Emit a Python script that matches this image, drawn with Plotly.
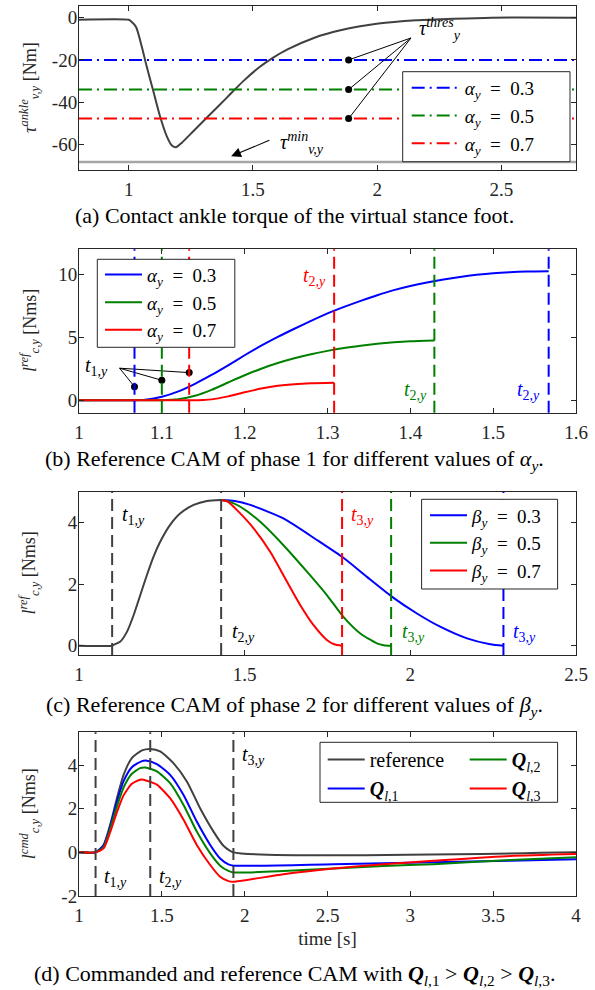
import plotly.graph_objects as go

FONT = "Liberation Serif, Times New Roman, DejaVu Serif, serif"
AX = "#262626"
BLUE, GREEN, RED, DARK, GREY = "#0000FF", "#008000", "#FF0000", "#404040", "#A6A6A6"
W, H = 595, 990

# ---------------- (a) contact ankle torque ----------------
tau_t = [0.8, 1.0, 1.008, 1.03, 1.052, 1.072, 1.099, 1.126, 1.153, 1.173, 1.19, 1.213,
         1.26, 1.327, 1.394, 1.461, 1.528, 1.58, 1.639, 1.745, 1.852, 2.005, 2.157,
         2.31, 2.46, 2.8]
tau_v = [-1.0, -1.0, -1.6, -4.5, -13.4, -22.9, -34.7, -46.6, -56.0, -60.3, -61.3, -59.2,
         -53.7, -45.8, -37.9, -30.0, -23.2, -19.0, -15.0, -9.6, -6.0, -2.8, -1.25,
         -0.5, 0.0, 0.0]
alpha_labels = ["0.3", "0.5", "0.7"]
tau_thres = [-20.0, -34.0, -47.7]
tau_min = -68.2
a_xrange = [0.8, 2.8]
a_yrange = [-72, 5.5]
a_xticks = [1, 1.5, 2, 2.5]
a_xtext = ["1", "1.5", "2", "2.5"]
a_yticks = [-60, -40, -20, 0]
a_ytext = ["-60", "-40", "-20", "0"]
thres_dot_x = 1.885
thres_hub = (2.136, -9.6)
thres_text = (2.16, -5.5)
min_arrow_head = (1.412, -65.5)
min_arrow_tail = (1.572, -57.7)
min_text = (1.60, -59.1)

# ---------------- (b) phase 1 ----------------
b_t1 = [1.067, 1.100, 1.133]
b_t2 = [1.567, 1.429, 1.308]
b_blue_t = [1.0, 1.067, 1.08, 1.10, 1.12, 1.14, 1.16, 1.18, 1.20, 1.22, 1.24, 1.26, 1.28,
            1.30, 1.32, 1.34, 1.36, 1.38, 1.40, 1.42, 1.44, 1.46, 1.48, 1.50, 1.52, 1.54, 1.567]
b_blue_v = [0, 0, 0.04, 0.27, 0.70, 1.30, 2.00, 2.77, 3.57, 4.33, 5.03, 5.68, 6.30,
            6.90, 7.42, 7.90, 8.35, 8.75, 9.08, 9.36, 9.60, 9.80, 9.97, 10.10, 10.18, 10.23, 10.25]
b_green_t = [1.0, 1.10, 1.12, 1.14, 1.16, 1.18, 1.20, 1.22, 1.24, 1.26, 1.28, 1.30, 1.32,
             1.34, 1.36, 1.38, 1.40, 1.429]
b_green_v = [0, 0, 0.08, 0.35, 0.82, 1.40, 1.98, 2.50, 2.95, 3.33, 3.65, 3.92, 4.15,
             4.33, 4.48, 4.60, 4.68, 4.74]
b_red_t = [1.0, 1.133, 1.15, 1.16, 1.18, 1.20, 1.22, 1.24, 1.26, 1.28, 1.308]
b_red_v = [0, 0, 0.02, 0.06, 0.30, 0.62, 0.92, 1.14, 1.27, 1.34, 1.38]
b_xrange = [1.0, 1.6]
b_yrange = [-1, 12]
b_xticks = [1, 1.1, 1.2, 1.3, 1.4, 1.5, 1.6]
b_xtext = ["1", "1.1", "1.2", "1.3", "1.4", "1.5", "1.6"]
b_yticks = [0, 5, 10]
b_ytext = ["0", "5", "10"]
b_t1_dot_y = [1.07, 1.58, 2.19]
b_t1_hub = (1.049, 2.54)
b_t1_text = (1.005, 2.7)
b_t2_text = [(1.543, 0.8), (1.406, 0.8), (1.284, 9.8)]

# ---------------- (c) phase 2 ----------------
c_t1, c_t2 = 1.10, 1.429
c_t3 = [2.281, 1.942, 1.794]
beta_labels = ["0.3", "0.5", "0.7"]
c_ref_t = [1.0, 1.10, 1.104, 1.124, 1.145, 1.165, 1.185, 1.205, 1.225, 1.245, 1.275,
           1.305, 1.346, 1.386, 1.429]
c_ref_v = [0, 0, 0.03, 0.13, 0.46, 1.0, 1.65, 2.3, 2.9, 3.38, 3.93, 4.3, 4.58, 4.71, 4.74]
c_blue_t = [1.429, 1.47, 1.517, 1.617, 1.718, 1.798, 1.869, 1.944, 2.02, 2.09, 2.171, 2.241, 2.281]
c_blue_v = [4.74, 4.71, 4.58, 4.14, 3.44, 2.86, 2.24, 1.6, 1.05, 0.62, 0.24, 0.05, 0]
c_green_t = [1.429, 1.455, 1.487, 1.547, 1.617, 1.688, 1.748, 1.798, 1.849, 1.899, 1.92, 1.942]
c_green_v = [4.74, 4.68, 4.52, 4.03, 3.27, 2.41, 1.65, 0.94, 0.40, 0.08, 0.02, 0]
c_red_t = [1.429, 1.45, 1.477, 1.527, 1.577, 1.628, 1.668, 1.708, 1.748, 1.77, 1.794]
c_red_v = [4.74, 4.68, 4.41, 3.82, 3.06, 2.08, 1.32, 0.67, 0.19, 0.05, 0]
c_xrange = [1.0, 2.5]
c_yrange = [-0.3, 5.0]
c_xticks = [1, 1.5, 2, 2.5]
c_xtext = ["1", "1.5", "2", "2.5"]
c_yticks = [0, 2, 4]
c_ytext = ["0", "2", "4"]
c_t1_text = (1.124, 4.25)
c_t2_text = (1.456, 0.43)
c_t3_text = [(2.305, 0.43), (1.968, 0.43), (1.814, 4.25)]

# ---------------- (d) commanded CAM ----------------
d_t = [1.10, 1.43, 1.932]
d_ref_t = [1.0, 1.098, 1.148, 1.188, 1.229, 1.269, 1.319, 1.38, 1.43, 1.49, 1.57, 1.651,
           1.731, 1.812, 1.872, 1.932, 4.0]
d_ref_v = [0, 0, 0.34, 1.26, 2.48, 3.55, 4.32, 4.67, 4.74, 4.63, 4.09, 3.25, 2.02, 0.95,
           0.30, 0, 0]
d_q1_t = [1.0, 1.098, 1.148, 1.188, 1.229, 1.269, 1.319, 1.38, 1.41, 1.47, 1.55, 1.631,
          1.711, 1.792, 1.852, 1.902, 1.932, 2.536, 3.139, 3.602, 4.0]
d_q1_v = [0, 0, 0.30, 1.18, 2.33, 3.26, 3.90, 4.18, 4.20, 4.04, 3.55, 2.63, 1.41, 0.34,
          -0.28, -0.55, -0.61, -0.54, -0.45, -0.38, -0.32]
d_q2_t = [1.0, 1.098, 1.148, 1.188, 1.229, 1.269, 1.319, 1.369, 1.40, 1.47, 1.55, 1.631,
          1.711, 1.792, 1.852, 1.902, 1.932, 2.234, 2.536, 2.838, 3.139, 3.602, 4.0]
d_q2_v = [0, 0, 0.23, 1.07, 2.10, 2.97, 3.60, 3.86, 3.89, 3.71, 3.17, 2.17, 0.95, -0.05,
          -0.61, -0.85, -0.92, -0.86, -0.74, -0.63, -0.54, -0.35, -0.22]
d_q3_t = [1.0, 1.098, 1.148, 1.188, 1.229, 1.269, 1.319, 1.369, 1.389, 1.47, 1.55, 1.631,
          1.711, 1.792, 1.852, 1.902, 1.932, 2.234, 2.536, 2.838, 3.139, 3.602, 4.0]
d_q3_v = [0, 0, 0.18, 0.92, 1.84, 2.61, 3.14, 3.33, 3.33, 3.10, 2.48, 1.49, 0.34, -0.58,
          -1.12, -1.32, -1.35, -1.0, -0.74, -0.54, -0.39, -0.17, -0.08]
d_xrange = [1.0, 4.0]
d_yrange = [-2.0, 5.5]
d_xticks = [1, 1.5, 2, 2.5, 3, 3.5, 4]
d_xtext = ["1", "1.5", "2", "2.5", "3", "3.5", "4"]
d_yticks = [-2, 0, 2, 4]
d_ytext = ["-2", "0", "2", "4"]
d_t_text = [(1.138, -1.15), (1.47, -1.15), (1.973, 4.45)]

# ---------------- layout geometry (pixels) ----------------
X_DOM = [79 / W, 576 / W]
def ydom(top, bottom):
    return [1 - bottom / H, 1 - top / H]
DOMS = [ydom(6, 170), ydom(249.3, 412.7), ydom(492, 655), ydom(732.3, 896)]
# legend frames (left, top, right, bottom) and legend anchor (left, top), in pixels
FRAMES = [(402.7, 71.7, 570, 161.7), (97.3, 259.3, 234.8, 347.3),
          (421.6, 499.3, 557.6, 589), (320, 742.3, 557.6, 802.3)]
LEG_POS = {"legend": (406.7, 69), "legend2": (100, 255.6), "legend3": (425, 496.3),
           "legend4": (322.7, 740), "legend5": (464.7, 740)}

TICKFONT = dict(family=FONT, size=19, color=AX)
LEGFONT = dict(family=FONT, size=19, color="black")
LEGFONT_D = dict(family=FONT, size=20, color="black")

fig = go.Figure()

def ln(x, y, color, xa, ya, name=None, legend=None, width=2, dash=None, shape="spline"):
    fig.add_trace(go.Scatter(
        x=x, y=y, mode="lines", xaxis=xa, yaxis=ya,
        line=dict(color=color, width=width, dash=dash, shape=shape, smoothing=0.6),
        name=name, showlegend=name is not None, legend=legend,
        legendgroup=name, hoverinfo="skip"))

def greek_name(letter, v):
    return "<i>%s</i><sub><i>y</i></sub>\u2002=\u2002%s" % (letter, v)

cols = [BLUE, GREEN, RED]
DASHDOT = "13px,5px,2px,5px"
DASH = "12px,6px"

# ---- (a)
ln(tau_t, tau_v, DARK, "x", "y")
for c, thr, lab in zip(cols, tau_thres, alpha_labels):
    ln(a_xrange, [thr, thr], c, "x", "y", name=greek_name("α", lab), legend="legend",
       dash=DASHDOT, shape="linear")
ln(a_xrange, [tau_min, tau_min], GREY, "x", "y", width=2.5, shape="linear")
hx, hy = [], []
for thr in tau_thres:
    hx += [thres_hub[0], thres_dot_x, None]
    hy += [thres_hub[1], thr, None]
fig.add_trace(go.Scatter(x=hx, y=hy, mode="lines", xaxis="x", yaxis="y",
                         line=dict(color="black", width=1), showlegend=False, hoverinfo="skip"))
fig.add_trace(go.Scatter(x=[thres_dot_x] * 3, y=tau_thres, mode="markers", xaxis="x", yaxis="y",
                         marker=dict(color="black", size=7), showlegend=False, hoverinfo="skip"))

# ---- (b)
ln(b_blue_t, b_blue_v, BLUE, "x2", "y2", name=greek_name("α", alpha_labels[0]), legend="legend2")
ln(b_green_t, b_green_v, GREEN, "x2", "y2", name=greek_name("α", alpha_labels[1]), legend="legend2")
ln(b_red_t, b_red_v, RED, "x2", "y2", name=greek_name("α", alpha_labels[2]), legend="legend2")
hx, hy = [], []
for t, dy in zip(b_t1, b_t1_dot_y):
    hx += [b_t1_hub[0], t, None]
    hy += [b_t1_hub[1], dy, None]
fig.add_trace(go.Scatter(x=hx, y=hy, mode="lines", xaxis="x2", yaxis="y2",
                         line=dict(color="black", width=1), showlegend=False, hoverinfo="skip"))
fig.add_trace(go.Scatter(x=b_t1, y=b_t1_dot_y, mode="markers", xaxis="x2", yaxis="y2",
                         marker=dict(color="black", size=7), showlegend=False, hoverinfo="skip"))

# ---- (c)
ln(c_ref_t, c_ref_v, DARK, "x3", "y3")
ln(c_blue_t, c_blue_v, BLUE, "x3", "y3", name=greek_name("β", beta_labels[0]), legend="legend3")
ln(c_green_t, c_green_v, GREEN, "x3", "y3", name=greek_name("β", beta_labels[1]), legend="legend3")
ln(c_red_t, c_red_v, RED, "x3", "y3", name=greek_name("β", beta_labels[2]), legend="legend3")

# ---- (d)
ln(d_ref_t, d_ref_v, DARK, "x4", "y4", name="reference", legend="legend4")
ln(d_q1_t, d_q1_v, BLUE, "x4", "y4", name="<b><i>Q</i></b><sub><i>l</i>,1</sub>", legend="legend4")
ln(d_q2_t, d_q2_v, GREEN, "x4", "y4", name="<b><i>Q</i></b><sub><i>l</i>,2</sub>", legend="legend5")
ln(d_q3_t, d_q3_v, RED, "x4", "y4", name="<b><i>Q</i></b><sub><i>l</i>,3</sub>", legend="legend5")

# ---------------- vertical dashed lines (shapes) ----------------
shapes = []
def vline(x, axis_n, color):
    xr = "x" if axis_n == 1 else "x%d" % axis_n
    yr = "y domain" if axis_n == 1 else "y%d domain" % axis_n
    shapes.append(dict(type="line", xref=xr, yref=yr, x0=x, x1=x, y0=0, y1=1,
                       line=dict(color=color, width=2, dash=DASH), layer="above"))
for t, c in zip(b_t1, cols):
    vline(t, 2, c)
for t, c in zip(b_t2, cols):
    vline(t, 2, c)
vline(c_t1, 3, DARK)
vline(c_t2, 3, DARK)
for t, c in zip(c_t3, cols):
    vline(t, 3, c)
for t in d_t:
    vline(t, 4, DARK)
# legend frames
for (l, t, r, b) in FRAMES:
    shapes.append(dict(type="rect", xref="paper", yref="paper",
                       x0=l / W, x1=r / W, y0=1 - b / H, y1=1 - t / H,
                       line=dict(color=AX, width=1), fillcolor="white", layer="above"))

# ---------------- annotations ----------------
ann = []
def txt(x, y, s, xref, yref, color="black", xanchor="left", size=20):
    ann.append(dict(x=x, y=y, xref=xref, yref=yref, text=s, showarrow=False,
                    xanchor=xanchor, yanchor="middle",
                    font=dict(family=FONT, size=size, color=color)))

def tsub(n):
    return "<i>t</i><sub>%d,<i>y</i></sub>" % n

txt(thres_text[0], thres_text[1], "<i>τ</i><sup><i>thres</i></sup><sub><i>y</i></sub>", "x", "y")
txt(min_text[0], min_text[1], "<i>τ</i><sup><i>min</i></sup><sub><i>v,y</i></sub>", "x", "y")
ann.append(dict(x=min_arrow_head[0], y=min_arrow_head[1], ax=min_arrow_tail[0], ay=min_arrow_tail[1],
                xref="x", yref="y", axref="x", ayref="y", text="", showarrow=True,
                arrowhead=2, arrowsize=1.8, arrowwidth=1.1, arrowcolor="black"))

txt(b_t1_text[0], b_t1_text[1], tsub(1), "x2", "y2")
for (x, y), c in zip(b_t2_text, cols):
    txt(x, y, tsub(2), "x2", "y2", color=c, xanchor="center")

txt(c_t1_text[0], c_t1_text[1], tsub(1), "x3", "y3")
txt(c_t2_text[0], c_t2_text[1], tsub(2), "x3", "y3")
for (x, y), c in zip(c_t3_text, cols):
    txt(x, y, tsub(3), "x3", "y3", color=c)

for i, (x, y) in enumerate(d_t_text):
    txt(x, y, tsub(i + 1), "x4", "y4")

# y-axis titles
ytitles = ["<i>τ</i><sup><i>ankle</i></sup><sub><i>v,y</i></sub> [Nm]",
           "<i>l</i><sup><i>ref</i></sup><sub><i>c,y</i></sub> [Nms]",
           "<i>l</i><sup><i>ref</i></sup><sub><i>c,y</i></sub> [Nms]",
           "<i>l</i><sup><i>cmd</i></sup><sub><i>c,y</i></sub> [Nms]"]
for dom, s in zip(DOMS, ytitles):
    ann.append(dict(x=29 / W, y=(dom[0] + dom[1]) / 2, xref="paper", yref="paper",
                    text=s, showarrow=False, textangle=-90, xanchor="center", yanchor="middle",
                    font=dict(family=FONT, size=18, color=AX)))

# captions
captions = [
    (216, "(a) Contact ankle torque of the virtual stance foot."),
    (460, "(b) Reference CAM of phase 1 for different values of <i>α</i><sub><i>y</i></sub>."),
    (706, "(c) Reference CAM of phase 2 for different values of <i>β</i><sub><i>y</i></sub>."),
    (975, "(d) Commanded and reference CAM with <b><i>Q</i></b><sub><i>l</i>,1</sub> &gt; "
          "<b><i>Q</i></b><sub><i>l</i>,2</sub> &gt; <b><i>Q</i></b><sub><i>l</i>,3</sub>."),
]
for py, s in captions:
    ann.append(dict(x=294 / W, y=1 - py / H, xref="paper", yref="paper", text=s,
                    showarrow=False, xanchor="center", yanchor="middle",
                    font=dict(family=FONT, size=22, color="black")))

# ---------------- axes ----------------
def axis(letter, **kw):
    d = dict(showline=True, linecolor=AX, linewidth=1, mirror="ticks", ticks="inside",
             ticklen=5, tickwidth=1, tickcolor=AX, showgrid=False, zeroline=False,
             tickfont=TICKFONT, automargin=False, tickmode="array", ticklabeloverflow="allow",
             ticklabelstandoff=2 if letter == "x" else -3)
    d.update(kw)
    return d

def leg(key, font):
    x, y = LEG_POS[key]
    return dict(x=x / W, y=1 - y / H, xanchor="left", yanchor="top",
                bgcolor="rgba(0,0,0,0)", borderwidth=0, font=font,
                itemwidth=48 if key == "legend" else 37, tracegroupgap=0)

layout = dict(
    width=W, height=H, margin=dict(l=0, r=0, t=0, b=0),
    paper_bgcolor="white", plot_bgcolor="white",
    font=dict(family=FONT, color=AX),
    shapes=shapes, annotations=ann,
    xaxis=axis("x", domain=X_DOM, anchor="y", range=a_xrange, tickvals=a_xticks, ticktext=a_xtext),
    yaxis=axis("y", domain=DOMS[0], anchor="x", range=a_yrange, tickvals=a_yticks, ticktext=a_ytext),
    xaxis2=axis("x", domain=X_DOM, anchor="y2", range=b_xrange, tickvals=b_xticks, ticktext=b_xtext),
    yaxis2=axis("y", domain=DOMS[1], anchor="x2", range=b_yrange, tickvals=b_yticks, ticktext=b_ytext),
    xaxis3=axis("x", domain=X_DOM, anchor="y3", range=c_xrange, tickvals=c_xticks, ticktext=c_xtext),
    yaxis3=axis("y", domain=DOMS[2], anchor="x3", range=c_yrange, tickvals=c_yticks, ticktext=c_ytext),
    xaxis4=axis("x", domain=X_DOM, anchor="y4", range=d_xrange, tickvals=d_xticks, ticktext=d_xtext,
                title=dict(text="time [s]", font=dict(family=FONT, size=19, color=AX), standoff=6)),
    yaxis4=axis("y", domain=DOMS[3], anchor="x4", range=d_yrange, tickvals=d_yticks, ticktext=d_ytext),
    legend=leg("legend", LEGFONT),
    legend2=leg("legend2", LEGFONT),
    legend3=leg("legend3", LEGFONT),
    legend4=leg("legend4", LEGFONT_D),
    legend5=leg("legend5", LEGFONT_D),
)
fig.update_layout(**layout)
fig.write_html("out.html", config={"displayModeBar": False},
               post_script="document.body.style.margin='0';document.body.style.overflow='hidden';")
